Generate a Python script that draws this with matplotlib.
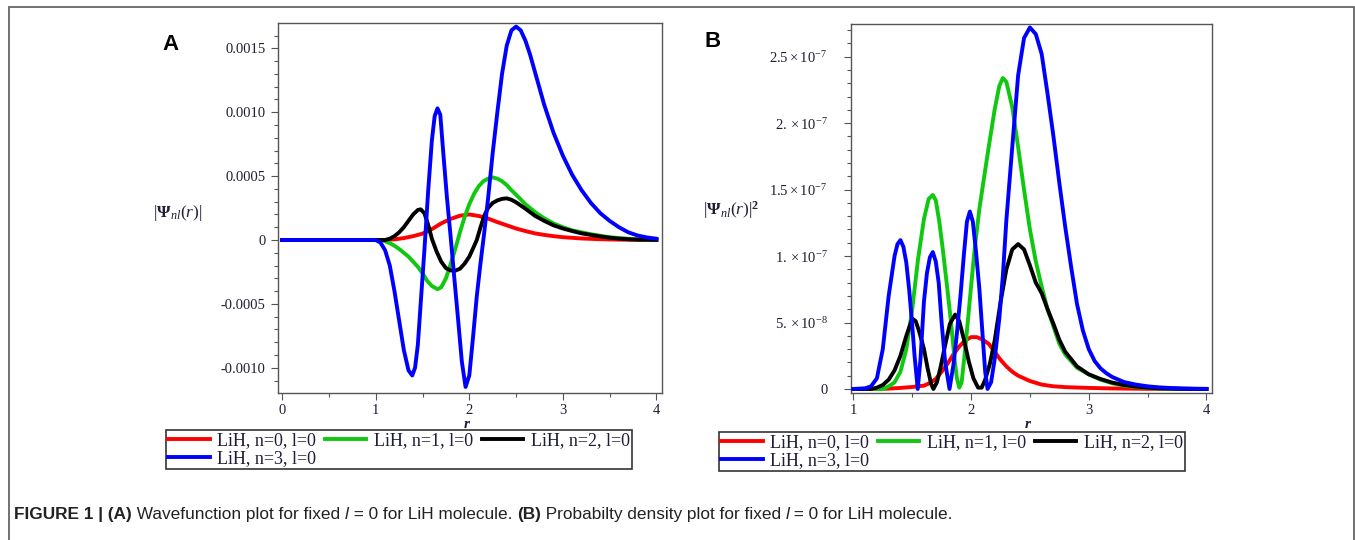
import numpy as np
import matplotlib
matplotlib.use("Agg")
import matplotlib.pyplot as plt
from matplotlib.patches import Rectangle
from matplotlib.ticker import FixedLocator, MultipleLocator

W, H = 1355, 540

plt.rcParams["mathtext.fontset"] = "custom"
plt.rcParams["mathtext.rm"] = "Liberation Serif"
plt.rcParams["mathtext.it"] = "Liberation Serif:italic"
plt.rcParams["mathtext.bf"] = "Liberation Serif:bold"

labels = ["LiH, n=0, l=0", "LiH, n=1, l=0", "LiH, n=2, l=0", "LiH, n=3, l=0"]
colors = ["#ff0000", "#10c810", "#000000", "#0000ff"]

# ---- panel A: wavefunction, values in units of 1e-4 ----
r_a0 = [0, 1.1, 1.2, 1.3, 1.4, 1.5, 1.6, 1.7, 1.8, 1.9, 2.0, 2.1, 2.2, 2.3, 2.4, 2.5,
        2.6, 2.7, 2.8, 2.9, 3.0, 3.2, 3.4, 3.6, 3.8, 4.0]
psi_a0 = [0, 0, 0.05, 0.15, 0.3, 0.5, 0.85, 1.3, 1.65, 1.9, 2.0, 1.88, 1.68, 1.4, 1.15, 0.9,
          0.7, 0.52, 0.4, 0.3, 0.22, 0.12, 0.06, 0.03, 0.01, 0]

r_a1 = [0, 1.05, 1.1, 1.15, 1.2, 1.25, 1.3, 1.35, 1.4, 1.45, 1.5, 1.55, 1.6, 1.66, 1.7,
        1.75, 1.8, 1.85, 1.9, 1.95, 2.0, 2.05, 2.1, 2.15, 2.2, 2.25, 2.3, 2.35, 2.4, 2.45,
        2.52, 2.6, 2.7, 2.8, 2.9, 3.0, 3.1, 3.2, 3.3, 3.4, 3.5, 3.6, 3.7, 3.8, 3.9, 4.0]
psi_a1 = [0, 0, -0.1, -0.25, -0.45, -0.7, -1.0, -1.3, -1.7, -2.1, -2.6, -3.2, -3.6, -3.85, -3.7,
          -3.0, -1.9, -0.7, 0.6, 1.8, 2.8, 3.6, 4.2, 4.6, 4.8, 4.9, 4.8, 4.6, 4.3, 3.9,
          3.4, 2.8, 2.2, 1.7, 1.3, 1.0, 0.75, 0.6, 0.45, 0.33, 0.22, 0.15, 0.1, 0.05, 0.03, 0.02]

r_a2 = [0, 1.1, 1.15, 1.2, 1.25, 1.3, 1.35, 1.4, 1.45, 1.48, 1.52, 1.56, 1.6, 1.65, 1.7,
        1.75, 1.8, 1.85, 1.9, 1.95, 2.0, 2.05, 2.08, 2.12, 2.16, 2.2, 2.25, 2.3, 2.35, 2.4,
        2.45, 2.5, 2.6, 2.7, 2.8, 2.9, 3.0, 3.1, 3.2, 3.3, 3.4, 3.5, 3.6, 3.7, 3.8, 4.0]
psi_a2 = [0, 0, 0.1, 0.3, 0.6, 1.0, 1.5, 2.0, 2.35, 2.4, 2.1, 1.2, 0.1, -0.9, -1.7,
          -2.2, -2.38, -2.4, -2.25, -1.85, -1.3, -0.5, 0.0, 1.0, 1.9, 2.5, 2.9, 3.1, 3.22, 3.26,
          3.15, 2.95, 2.45, 1.9, 1.5, 1.15, 0.9, 0.7, 0.52, 0.4, 0.28, 0.18, 0.11, 0.06, 0.03, 0.01]

r_a3 = [0, 1.0, 1.05, 1.1, 1.15, 1.2, 1.25, 1.3, 1.35, 1.39, 1.42, 1.45, 1.48, 1.52, 1.56,
        1.6, 1.63, 1.66, 1.69, 1.72, 1.76, 1.8, 1.84, 1.88, 1.92, 1.96, 2.0, 2.04, 2.08, 2.12,
        2.16, 2.2, 2.25, 2.3, 2.35, 2.4, 2.45, 2.5, 2.55, 2.6, 2.65, 2.7, 2.8, 2.9, 3.0,
        3.1, 3.2, 3.3, 3.4, 3.5, 3.6, 3.7, 3.8, 3.9, 4.0]
psi_a3 = [0, 0, -0.2, -0.8, -2.0, -4.0, -6.3, -8.6, -10.2, -10.6, -10.0, -8.2, -5.0, -0.8, 3.8,
          7.8, 9.7, 10.3, 9.8, 7.0, 3.4, 0.3, -3.0, -6.2, -9.5, -11.5, -10.6, -7.6, -4.4, -1.8,
          0.6, 3.2, 6.8, 10.0, 13.0, 15.2, 16.4, 16.7, 16.4, 15.6, 14.5, 13.2, 10.6, 8.4, 6.6,
          5.1, 3.9, 2.9, 2.1, 1.5, 1.0, 0.6, 0.35, 0.2, 0.1]

yticks_a = [-0.0010, -0.0005, 0, 0.0005, 0.0010, 0.0015]
ylabels_a = ["-0.0010", "-0.0005", "0", "0.0005", "0.0010", "0.0015"]

# ---- panel B: probability density, values in units of 1e-8 ----
r_b0 = [1.0, 1.2, 1.3, 1.4, 1.5, 1.6, 1.65, 1.7, 1.75, 1.8, 1.85, 1.9, 1.95, 2.0, 2.05,
        2.1, 2.15, 2.2, 2.25, 2.3, 2.35, 2.4, 2.5, 2.6, 2.7, 2.8, 3.0, 3.2, 3.5, 4.0]
p_b0 = [0, 0, 0.03, 0.08, 0.15, 0.25, 0.45, 0.75, 1.3, 1.9, 2.6, 3.2, 3.65, 3.9, 3.9,
        3.7, 3.4, 2.8, 2.2, 1.7, 1.3, 1.0, 0.6, 0.33, 0.2, 0.14, 0.08, 0.04, 0.01, 0]

r_b1 = [1.0, 1.25, 1.3, 1.35, 1.4, 1.45, 1.5, 1.55, 1.6, 1.64, 1.675, 1.7, 1.73, 1.76, 1.8,
        1.83, 1.86, 1.88, 1.9, 1.92, 1.95, 1.98, 2.0, 2.03, 2.07, 2.1, 2.15, 2.2, 2.24, 2.27,
        2.3, 2.35, 2.4, 2.45, 2.5, 2.55, 2.6, 2.65, 2.7, 2.75, 2.8, 2.9, 3.0, 3.1, 3.2,
        3.3, 3.4, 3.5, 3.6, 3.8, 4.0]
p_b1 = [0, 0, 0.2, 0.5, 1.3, 3.0, 6.0, 9.8, 12.8, 14.3, 14.6, 14.2, 12.6, 10.5, 7.4,
        5.0, 2.2, 0.8, 0.1, 0.5, 3.0, 5.8, 7.7, 10.5, 13.5, 15.3, 18.2, 21.0, 22.8, 23.4,
        23.1, 21.2, 18.2, 15.0, 12.0, 9.6, 7.7, 6.0, 4.7, 3.4, 2.6, 1.6, 1.1, 0.7, 0.43,
        0.25, 0.15, 0.08, 0.04, 0.01, 0]

r_b2 = [1.0, 1.15, 1.2, 1.25, 1.3, 1.35, 1.4, 1.45, 1.5, 1.53, 1.56, 1.6, 1.63, 1.66, 1.68,
        1.71, 1.74, 1.78, 1.82, 1.865, 1.9, 1.94, 1.98, 2.02, 2.06, 2.09, 2.12, 2.16, 2.2, 2.25,
        2.3, 2.35, 2.4, 2.45, 2.5, 2.55, 2.6, 2.65, 2.7, 2.75, 2.8, 2.9, 3.0, 3.1, 3.2,
        3.3, 3.4, 3.5, 3.6, 3.8, 4.0]
p_b2 = [0, 0, 0.1, 0.3, 0.7, 1.4, 2.5, 4.0, 5.3, 5.1, 4.3, 3.0, 1.6, 0.4, 0.0,
        0.5, 1.6, 3.3, 4.9, 5.6, 5.1, 3.7, 2.1, 0.8, 0.1, 0.1, 0.7, 1.9, 3.6, 6.5,
        9.0, 10.5, 10.9, 10.5, 9.3, 8.0, 7.2, 6.0, 4.9, 3.7, 2.8, 1.7, 1.1, 0.75, 0.48,
        0.3, 0.18, 0.1, 0.05, 0.01, 0]

r_b3 = [1.0, 1.1, 1.15, 1.2, 1.25, 1.3, 1.35, 1.375, 1.4, 1.425, 1.45, 1.475, 1.5, 1.52, 1.547,
        1.57, 1.6, 1.625, 1.65, 1.675, 1.7, 1.725, 1.75, 1.78, 1.817, 1.85, 1.88, 1.91, 1.94, 1.965,
        1.99, 2.015, 2.04, 2.07, 2.1, 2.12, 2.14, 2.17, 2.2, 2.24, 2.27, 2.3, 2.35, 2.4, 2.45,
        2.5, 2.55, 2.6, 2.65, 2.7, 2.75, 2.8, 2.85, 2.9, 2.95, 3.0, 3.05, 3.1, 3.15, 3.2,
        3.3, 3.4, 3.5, 3.6, 3.7, 3.8, 3.9, 4.0]
p_b3 = [0, 0.05, 0.2, 0.8, 3.0, 7.0, 10.0, 10.9, 11.2, 10.7, 9.5, 7.4, 4.8, 2.5, 0,
        2.2, 6.6, 8.7, 9.9, 10.3, 9.6, 8.0, 5.0, 2.0, 0, 1.8, 4.2, 7.0, 10.2, 12.6,
        13.35, 12.6, 10.5, 7.6, 3.8, 1.3, 0, 0.5, 2.2, 5.3, 8.5, 12.7, 18.2, 23.6, 26.4,
        27.2, 26.7, 25.2, 22.2, 19.0, 15.5, 12.2, 9.2, 6.4, 4.4, 3.0, 2.1, 1.55, 1.18, 0.9,
        0.52, 0.33, 0.2, 0.12, 0.07, 0.04, 0.02, 0.01]

yticks_b = [0, 5e-8, 1e-7, 1.5e-7, 2e-7, 2.5e-7]
ylabels_b = ["0", r"$5.\times10^{-8}$", r"$1.\times10^{-7}$", r"$1.5\times10^{-7}$",
             r"$2.\times10^{-7}$", r"$2.5\times10^{-7}$"]

TXT = "#1e1e34"
SERIF = "Liberation Serif"


def fx(px):
    return px / W


def fy(py):
    return 1 - py / H


fig = plt.figure(figsize=(W / 100, H / 100), dpi=100)
fig.patch.set_facecolor("white")

axA = fig.add_axes([fx(278), fy(393.3), (662 - 278) / W, (393.3 - 23.3) / H])
axB = fig.add_axes([fx(851), fy(392.7), (1212 - 851) / W, (392.7 - 24) / H])

series_a = [(r_a0, psi_a0), (r_a1, psi_a1), (r_a2, psi_a2), (r_a3, psi_a3)]
series_b = [(r_b0, p_b0), (r_b1, p_b1), (r_b2, p_b2), (r_b3, p_b3)]

lines_a, lines_b = [], []
for i, ((ra, ya), (rb, yb)) in enumerate(zip(series_a, series_b)):
    la, = axA.plot(ra, np.array(ya) * 1e-4, color=colors[i], lw=2.8, label=labels[i],
                   zorder=2 + i, solid_joinstyle="round")
    lb, = axB.plot(rb, np.array(yb) * 1e-8, color=colors[i], lw=2.8, label=labels[i],
                   zorder=2 + i, solid_joinstyle="round")
    lines_a.append(la)
    lines_b.append(lb)

axA.set_xlim(-0.045, 4.06)
axA.set_ylim(-0.0011995, 0.0016956)
axB.set_xlim(0.98, 4.047)
axB.set_ylim(-2.8e-9, 2.746e-7)

axA.yaxis.set_major_locator(FixedLocator(yticks_a))
axA.set_yticklabels(ylabels_a)
axA.yaxis.set_minor_locator(MultipleLocator(0.0001))
axA.xaxis.set_major_locator(FixedLocator([0, 1, 2, 3, 4]))
axA.xaxis.set_minor_locator(MultipleLocator(0.5))

axB.yaxis.set_major_locator(FixedLocator(yticks_b))
axB.set_yticklabels(ylabels_b)
axB.yaxis.set_minor_locator(MultipleLocator(1e-8))
axB.xaxis.set_major_locator(FixedLocator([1, 2, 3, 4]))
axB.xaxis.set_minor_locator(MultipleLocator(0.5))

for ax, ypad in ((axA, 4), (axB, 12)):
    for s in ax.spines.values():
        s.set_color("#555555")
        s.set_linewidth(1.0)
    ax.tick_params(which="both", direction="out", top=False, right=False,
                   color="#555555", width=0.8, labelcolor=TXT, labelsize=10.5)
    ax.tick_params(which="major", length=5)
    ax.tick_params(which="minor", length=3)
    ax.tick_params(axis="y", pad=ypad)
    ax.tick_params(axis="x", pad=3)
    for t in ax.get_xticklabels() + ax.get_yticklabels():
        t.set_fontfamily(SERIF)

# axis titles placed like the Maple export
fig.text(fx(178), fy(213), r"$\left|\mathbf{\Psi}_{nl}(r)\right|$", fontsize=12.5,
         ha="center", va="center", color=TXT)
fig.text(fx(731), fy(210), r"$\left|\mathbf{\Psi}_{nl}(r)\right|^{\mathbf{2}}$", fontsize=12.5,
         ha="center", va="center", color=TXT)
for xc in (467, 1028):
    fig.text(fx(xc), fy(425), "r", fontsize=11, family=SERIF, style="italic",
             weight="bold", ha="center", va="center", color=TXT)

fig.text(fx(170.5), fy(44), "A", fontsize=16, family="Liberation Sans", weight="bold",
         ha="center", va="center")
fig.text(fx(713), fy(42), "B", fontsize=16, family="Liberation Sans", weight="bold",
         ha="center", va="center")

# legends: order so that 4 entries fill rows like Maple (3 + 1)
order = [0, 3, 1, 2]
for ax, lines, anchor in ((axA, lines_a, (166, 430)), (axB, lines_b, (719, 432))):
    leg = ax.legend([lines[k] for k in order], [labels[k] for k in order], ncol=3,
                    loc="upper left", bbox_to_anchor=(fx(anchor[0]), fy(anchor[1])),
                    bbox_transform=fig.transFigure, prop={"family": SERIF, "size": 13},
                    handlelength=2.3, handletextpad=0.4, columnspacing=0.5,
                    labelspacing=0.05, borderpad=0.12, borderaxespad=0,
                    frameon=True, fancybox=False, framealpha=1)
    leg.get_frame().set_edgecolor("#333333")
    leg.get_frame().set_linewidth(1.2)
    for t in leg.get_texts():
        t.set_color(TXT)

# outer frame of the figure panel
fig.patches.append(Rectangle((fx(9), -0.05), (1354 - 9) / W, fy(7) + 0.05,
                             transform=fig.transFigure, fill=False,
                             edgecolor="#666666", lw=1.3))

# caption with mixed bold / italic runs, all on one baseline
renderer = fig.canvas.get_renderer()
parts = [("FIGURE 1 | (A)", "bold", "normal"),
         (" Wavefunction plot for fixed ", "normal", "normal"),
         ("l", "normal", "italic"),
         (" = 0 for LiH molecule. ", "normal", "normal"),
         ("(B)", "bold", "normal"),
         (" Probabilty density plot for fixed ", "normal", "normal"),
         ("l", "normal", "italic"),
         (" = 0 for LiH molecule.", "normal", "normal")]
x = 14
for s, wt, st in parts:
    t = fig.text(fx(x), fy(519), s, fontsize=12.4, family="Liberation Sans", weight=wt,
                 style=st, ha="left", va="baseline", color="#222222")
    x = t.get_window_extent(renderer).x1

fig.savefig("out.png", dpi=100, facecolor="white")
